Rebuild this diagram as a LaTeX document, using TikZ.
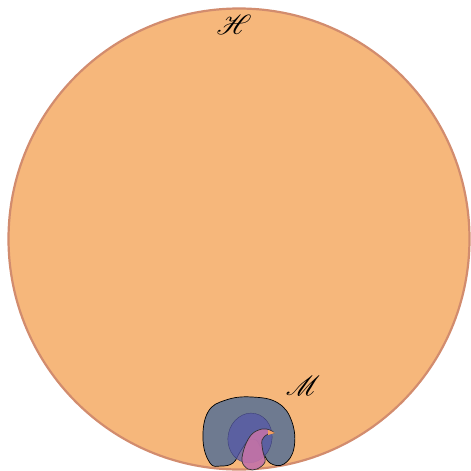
\documentclass[tikz,border=0pt]{standalone}
\usepackage{mathrsfs}
\usepackage{tikz}
\usetikzlibrary{positioning}
\definecolor{hsfill}{HTML}{F6B77B}
\definecolor{hsedge}{HTML}{D28C6E}
\definecolor{mgray}{HTML}{6E7A90}
\definecolor{mblue}{HTML}{5558A8}
\definecolor{mpink}{HTML}{C272A8}
\definecolor{mbeak}{HTML}{F2A060}

\begin{document}
\begin{tikzpicture}[
  x=1pt, y=-1pt,
  space/.style={draw=hsedge, line width=2.2pt, fill=hsfill},
  blob/.style={draw=black, line width=0.7pt},
  lbl/.style={scale=1.6, font=\LARGE},
  ]
  \useasboundingbox (0,0) rectangle (471,471);
  % The big space.
  \node[space, circle, minimum size=461pt, inner sep=0pt] (H) at (239,239) {};
  \node[lbl] (Hl) at (234,25) {$\mathscr{H}$};
  \node[lbl] (Ml) at (303,386) {$\mathscr{M}$};

  % The small region.
  \draw[blob, fill=mgray] plot[smooth cycle, tension=0.7] coordinates {
    (210,463) (203,440) (208,412) (226,400) (252,397) (278,403)
    (292,422) (294,448) (284,464) (270,463) (262,450) (256,440) (248,441)
    (240,452) (233,463) (221,466)};
  \draw[draw=mblue!70!black, line width=0.4pt, fill=mblue, fill opacity=0.75,
    rotate around={-12:(250,438)}] (250,438) ellipse (22pt and 25pt);
  \draw[blob, draw=black!80, fill=mpink, fill opacity=0.9] plot[smooth cycle, tension=0.6] coordinates {
    (242,461) (245,446) (252,434) (262,429) (270,430) (274,433) (268,434)
    (262,440) (263,452) (265,462) (257,469) (248,469)};
  \fill[mbeak] (268,430) -- (275,433) -- (268,435) -- cycle;
\end{tikzpicture}
\end{document}
